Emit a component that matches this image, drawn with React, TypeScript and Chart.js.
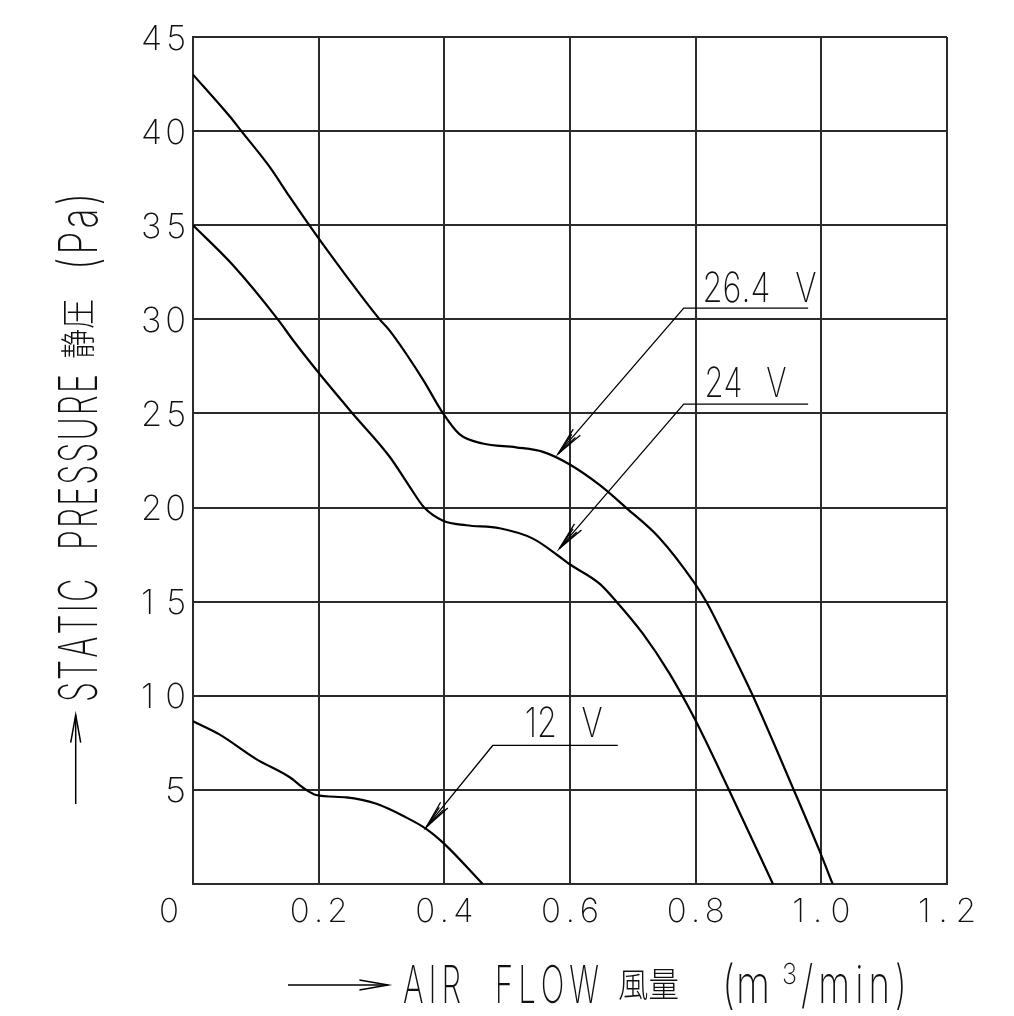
import React, { useEffect, useRef } from 'react';
import { Chart, registerables } from 'chart.js';

Chart.register(...registerables);

// ---- data ----
const xTickValues = [0, 0.2, 0.4, 0.6, 0.8, 1.0, 1.2];
const xTickLabels = ['0', '0.2', '0.4', '0.6', '0.8', '1.0', '1.2'];
const yTickValues = [5, 10, 15, 20, 25, 30, 35, 40, 45];
const yTickLabels = ['5', '10', '15', '20', '25', '30', '35', '40', '45'];

const flow264 = [0, 0.058, 0.077, 0.122, 0.154, 0.185, 0.2, 0.244, 0.297, 0.313, 0.366, 0.398, 0.424, 0.461, 0.514, 0.557, 0.599, 0.647, 0.689, 0.742, 0.798, 0.817, 0.849, 0.891, 0.957, 0.997, 1.018];
const pressure264 = [43.0, 40.8, 40.0, 38.1, 36.5, 35.0, 34.3, 32.3, 30.0, 29.4, 26.8, 25.0, 23.9, 23.4, 23.2, 22.96, 22.3, 21.2, 20.0, 18.4, 16.0, 15.0, 12.9, 10.0, 4.93, 1.77, 0];

const flow24 = [0, 0.063, 0.135, 0.159, 0.199, 0.254, 0.313, 0.345, 0.368, 0.398, 0.435, 0.488, 0.541, 0.583, 0.599, 0.647, 0.674, 0.716, 0.758, 0.798, 0.854, 0.923];
const pressure24 = [35.0, 32.9, 30.0, 28.9, 27.2, 25.0, 22.7, 21.1, 20.0, 19.3, 19.06, 18.9, 18.35, 17.4, 17.0, 15.96, 15.0, 13.3, 11.2, 8.8, 4.93, 0];

const flow12 = [0, 0.042, 0.1, 0.154, 0.178, 0.196, 0.244, 0.292, 0.339, 0.371, 0.4, 0.461];
const pressure12 = [8.65, 7.95, 6.65, 5.67, 5.05, 4.73, 4.6, 4.26, 3.54, 2.93, 2.13, 0];

const seriesNames = ['26.4 V', '24 V', '12 V'];

// leader annotations in data units: arrow tip, elbow, line end x, text left x, text baseline y
const labelTipX = [0.581, 0.583, 0.371];
const labelTipY = [22.85, 17.82, 3.01];
const labelElbowX = [0.781, 0.781, 0.477];
const labelElbowY = [30.6, 25.5, 7.36];
const labelEndX = [0.979, 0.979, 0.676];
const labelTextX = [0.811, 0.814, 0.528];
const labelTextY = [30.94, 25.88, 7.8];

const yTitleMain = 'STATIC PRESSURE';
const yTitleCjk = '静圧';
const yTitleUnit = '(Pa)';
const xTitleMain = 'AIR FLOW';
const xTitleCjk = '風量';

// ---- styling ----
const FONT = '"Inter", "Roboto", "Noto Sans CJK JP", sans-serif';
const CJK_FONT = '"Noto Sans CJK JP", sans-serif';
const WEIGHT = 200;

// draws text char by char: glyphs condensed by sx0, remaining width spread as spacing
function spacedText(ctx: CanvasRenderingContext2D, text: string, x: number, y: number, cap: number, width: number, align: 'left' | 'right' | 'center', sx0: number) {
  const size = cap / 0.727;
  ctx.font = `${WEIGHT} ${size}px ${FONT}`;
  ctx.textAlign = 'left';
  ctx.textBaseline = 'alphabetic';
  const chars = Array.from(text);
  const spaceW = ctx.measureText('N').width;
  const nat = chars.map((c) => (c === ' ' ? spaceW : ctx.measureText(c).width));
  const natSum = nat.reduce((a, b) => a + b, 0);
  let sx = sx0;
  let gap = chars.length > 1 ? (width - natSum * sx) / (chars.length - 1) : 0;
  if (chars.length === 1 || gap < 0) {
    sx = width / natSum;
    gap = 0;
  }
  let cx = align === 'left' ? x : align === 'right' ? x - width : x - width / 2;
  chars.forEach((c, i) => {
    if (c !== ' ') {
      ctx.save();
      ctx.translate(cx, y);
      ctx.scale(sx, 1);
      ctx.fillText(c, 0, 0);
      ctx.restore();
    }
    cx += nat[i] * sx + gap;
  });
}

function fitCjk(ctx: CanvasRenderingContext2D, text: string, x: number, yMid: number, size: number, width: number) {
  ctx.font = `300 ${size}px ${CJK_FONT}`;
  ctx.textAlign = 'left';
  ctx.textBaseline = 'middle';
  const m = ctx.measureText(text).width;
  ctx.save();
  ctx.translate(x, yMid);
  ctx.scale(width / m, 1);
  ctx.fillText(text, 0, 0);
  ctx.restore();
}

function arrowHead(ctx: CanvasRenderingContext2D, tx: number, ty: number, fx: number, fy: number, len: number, half: number) {
  const ang = Math.atan2(fy - ty, fx - tx);
  ctx.beginPath();
  ctx.moveTo(tx + len * Math.cos(ang + half), ty + len * Math.sin(ang + half));
  ctx.lineTo(tx, ty);
  ctx.lineTo(tx + len * Math.cos(ang - half), ty + len * Math.sin(ang - half));
  ctx.stroke();
}

const decorPlugin = {
  id: 'decor',
  afterDraw(chart: any) {
    const ctx: CanvasRenderingContext2D = chart.ctx;
    const xs = chart.scales.x;
    const ys = chart.scales.y;
    const area = chart.chartArea;
    ctx.save();
    ctx.fillStyle = '#111';
    ctx.strokeStyle = '#000';

    // y tick labels
    yTickValues.forEach((v, i) => {
      const t = yTickLabels[i];
      spacedText(ctx, t, area.left - 7, ys.getPixelForValue(v) + 12.5, 25, 24 * t.length - 3, 'right', 1.0);
    });
    // x tick labels
    xTickValues.forEach((v, i) => {
      const t = xTickLabels[i];
      if (v === 0) {
        spacedText(ctx, t, xs.getPixelForValue(v) - 24, area.bottom + 38, 24, 20, 'center', 1);
      } else {
        spacedText(ctx, t, xs.getPixelForValue(v), area.bottom + 38, 24, 58, 'center', 1.0);
      }
    });

    // leaders + labels
    ctx.lineWidth = 1.3;
    seriesNames.forEach((name, i) => {
      const tx = xs.getPixelForValue(labelTipX[i]);
      const ty = ys.getPixelForValue(labelTipY[i]);
      const ex = xs.getPixelForValue(labelElbowX[i]);
      const ey = ys.getPixelForValue(labelElbowY[i]);
      const rx = xs.getPixelForValue(labelEndX[i]);
      ctx.beginPath();
      ctx.moveTo(tx, ty);
      ctx.lineTo(ex, ey);
      ctx.lineTo(rx, ey);
      ctx.stroke();
      arrowHead(ctx, tx, ty, ex, ey, 29, 0.16);
      arrowHead(ctx, tx, ty, ex, ey, 24, 0.1);
      const lx = xs.getPixelForValue(labelTextX[i]);
      const ly = ys.getPixelForValue(labelTextY[i]);
      const w = name.length === 6 ? 114 : name.startsWith('24') ? 82 : 78;
      spacedText(ctx, name, lx, ly, 30, w, 'left', 0.8);
    });

    // y axis title (rotated)
    ctx.lineWidth = 1.5;
    ctx.beginPath();
    ctx.moveTo(75.7, 804);
    ctx.lineTo(75.7, 715);
    ctx.stroke();
    arrowHead(ctx, 75.7, 715, 75.7, 804, 28, 0.18);
    ctx.save();
    ctx.translate(97, 702);
    ctx.rotate(-Math.PI / 2);
    spacedText(ctx, yTitleMain, 0, 0, 39, 328, 'left', 0.6);
    fitCjk(ctx, yTitleCjk, 343, -19.5, 35, 60);
    spacedText(ctx, yTitleUnit, 432, 0, 39, 77, 'left', 0.7);
    ctx.restore();

    // x axis title
    ctx.beginPath();
    ctx.moveTo(288, 985);
    ctx.lineTo(388, 985);
    ctx.stroke();
    arrowHead(ctx, 388, 985, 288, 985, 29, 0.17);
    spacedText(ctx, xTitleMain, 403, 1003, 38, 196, 'left', 0.6);
    fitCjk(ctx, xTitleCjk, 618, 984, 34, 61);
    spacedText(ctx, '(m', 722, 1003, 38, 48, 'left', 0.75);
    spacedText(ctx, '3', 782, 984, 21, 15, 'left', 1);
    spacedText(ctx, '/min)', 801, 1003, 38, 106, 'left', 0.7);
    ctx.restore();
  },
};

function toPoints(xs: number[], ys: number[]) {
  return xs.map((x, i) => ({ x, y: ys[i] }));
}

export default function App() {
  const ref = useRef<HTMLCanvasElement | null>(null);
  useEffect(() => {
    document.body.style.margin = '0';
    const canvas = ref.current!;
    const lineStyle = {
      borderColor: '#000',
      borderWidth: 2.2,
      pointRadius: 0,
      fill: false,
      cubicInterpolationMode: 'monotone' as const,
    };
    const chart = new Chart(canvas, {
      type: 'line',
      data: {
        datasets: [
          { label: seriesNames[0], data: toPoints(flow264, pressure264), ...lineStyle },
          { label: seriesNames[1], data: toPoints(flow24, pressure24), ...lineStyle },
          { label: seriesNames[2], data: toPoints(flow12, pressure12), ...lineStyle },
        ],
      },
      options: {
        animation: false,
        responsive: false,
        devicePixelRatio: 1,
        layout: { padding: { left: 193, right: 67, top: 37, bottom: 132 } },
        plugins: { legend: { display: false }, tooltip: { enabled: false } },
        scales: {
          x: {
            type: 'linear',
            min: 0,
            max: 1.2,
            afterFit: (s: any) => { s.height = 0; },
            ticks: { display: false, stepSize: 0.2 },
            grid: { color: '#2b2b2b', lineWidth: 2, drawTicks: false },
            border: { display: true, color: '#2b2b2b', width: 2 },
          },
          y: {
            type: 'linear',
            min: 0,
            max: 45,
            afterFit: (s: any) => { s.width = 0; },
            ticks: { display: false, stepSize: 5 },
            grid: { color: '#2b2b2b', lineWidth: 2, drawTicks: false },
            border: { display: true, color: '#2b2b2b', width: 2 },
          },
        },
      },
      plugins: [decorPlugin],
    });
    return () => chart.destroy();
  }, []);
  return (
    <div style={{ width: 1014, height: 1016, background: '#fff' }}>
      <canvas ref={ref} width={1014} height={1016} style={{ display: 'block' }} />
    </div>
  );
}
